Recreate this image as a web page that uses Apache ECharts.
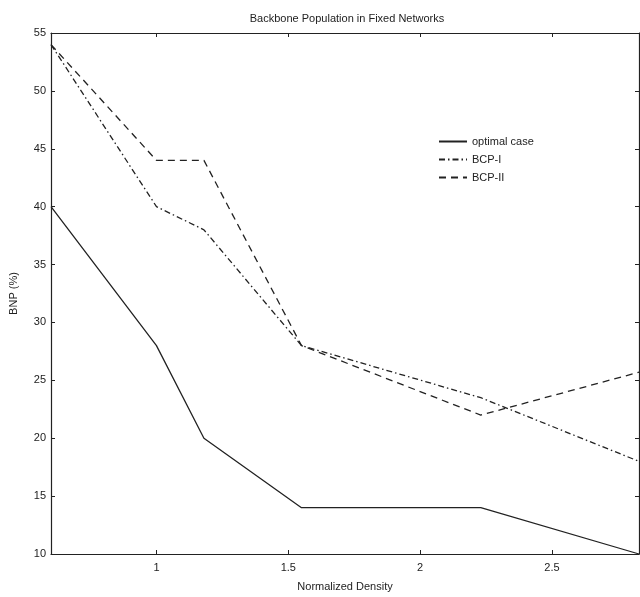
<!DOCTYPE html>
<html>
<head>
<meta charset="utf-8">
<script src="https://cdn.jsdelivr.net/npm/echarts@6/dist/echarts.min.js"></script>
<style>html,body{margin:0;padding:0;background:#fff}#c{width:640px;height:597px}</style>
</head>
<body>
<div id="c"></div>
<script>
const density = [0.6, 1.0, 1.18, 1.55, 2.23, 2.83];
const optimalCase = [40, 28, 20, 14, 14, 10];
const bcp1 = [54, 40, 38, 28, 23.5, 18];
const bcp2 = [54, 44, 44, 28, 22, 25.7];
const xTicks = [1, 1.5, 2, 2.5];
const seriesNames = ['optimal case', 'BCP-I', 'BCP-II'];

const pair = arr => density.map((d, i) => [d, arr[i]]);
const font = 'Liberation Sans, Arial, sans-serif';
const ink = '#222';

const chart = echarts.init(document.getElementById('c'), null, {renderer: 'canvas'});
const axisCommon = {
  axisLine: {show: true, lineStyle: {color: ink, width: 1.2}},
  splitLine: {show: false},
};
chart.setOption({
  animation: false,
  backgroundColor: '#fff',
  title: {
    text: 'Backbone Population in Fixed Networks',
    left: 342, top: 8, textAlign: 'center',
    textStyle: {fontFamily: font, fontSize: 11, fontWeight: 'normal', color: ink}
  },
  grid: {left: 48, right: 1, top: 33, bottom: 42},
  legend: {
    orient: 'vertical', left: 433, top: 131, itemWidth: 28, itemHeight: 10, itemGap: 7,
    itemStyle: {opacity: 0},
    textStyle: {fontFamily: font, fontSize: 11, color: ink},
    data: seriesNames
  },
  xAxis: [{
    type: 'value', min: 0.6, max: 2.83, position: 'bottom',
    name: 'Normalized Density', nameLocation: 'middle', nameGap: 27,
    nameTextStyle: {fontFamily: font, fontSize: 11, color: ink},
    ...axisCommon,
    axisTick: {show: true, inside: true, length: 4, lineStyle: {color: ink}, customValues: xTicks},
    axisLabel: {fontFamily: font, fontSize: 11, color: ink, margin: 8, customValues: xTicks}
  }, {
    type: 'value', min: 0.6, max: 2.83, position: 'top',
    ...axisCommon,
    axisTick: {show: true, inside: true, length: 4, lineStyle: {color: ink}, customValues: xTicks},
    axisLabel: {show: false}
  }],
  yAxis: [{
    type: 'value', min: 10, max: 55, interval: 5, position: 'left',
    name: 'BNP (%)', nameLocation: 'middle', nameGap: 32, nameRotate: 90,
    nameTextStyle: {fontFamily: font, fontSize: 11, color: ink},
    ...axisCommon,
    axisTick: {show: true, inside: true, length: 4, lineStyle: {color: ink}},
    axisLabel: {fontFamily: font, fontSize: 11, color: ink, margin: 5}
  }, {
    type: 'value', min: 10, max: 55, interval: 5, position: 'right',
    ...axisCommon,
    axisTick: {show: true, inside: true, length: 4, lineStyle: {color: ink}},
    axisLabel: {show: false}
  }],
  series: [{
    name: seriesNames[0], type: 'line', data: pair(optimalCase), symbol: 'none',
    lineStyle: {color: ink, width: 1.3, type: 'solid'}, itemStyle: {color: ink}
  }, {
    name: seriesNames[1], type: 'line', data: pair(bcp1), symbol: 'none',
    lineStyle: {color: ink, width: 1.3, type: [6, 3, 1.5, 3]}, itemStyle: {color: ink}
  }, {
    name: seriesNames[2], type: 'line', data: pair(bcp2), symbol: 'none',
    lineStyle: {color: ink, width: 1.3, type: [7, 5]}, itemStyle: {color: ink}
  }]
});
</script>
</body>
</html>
